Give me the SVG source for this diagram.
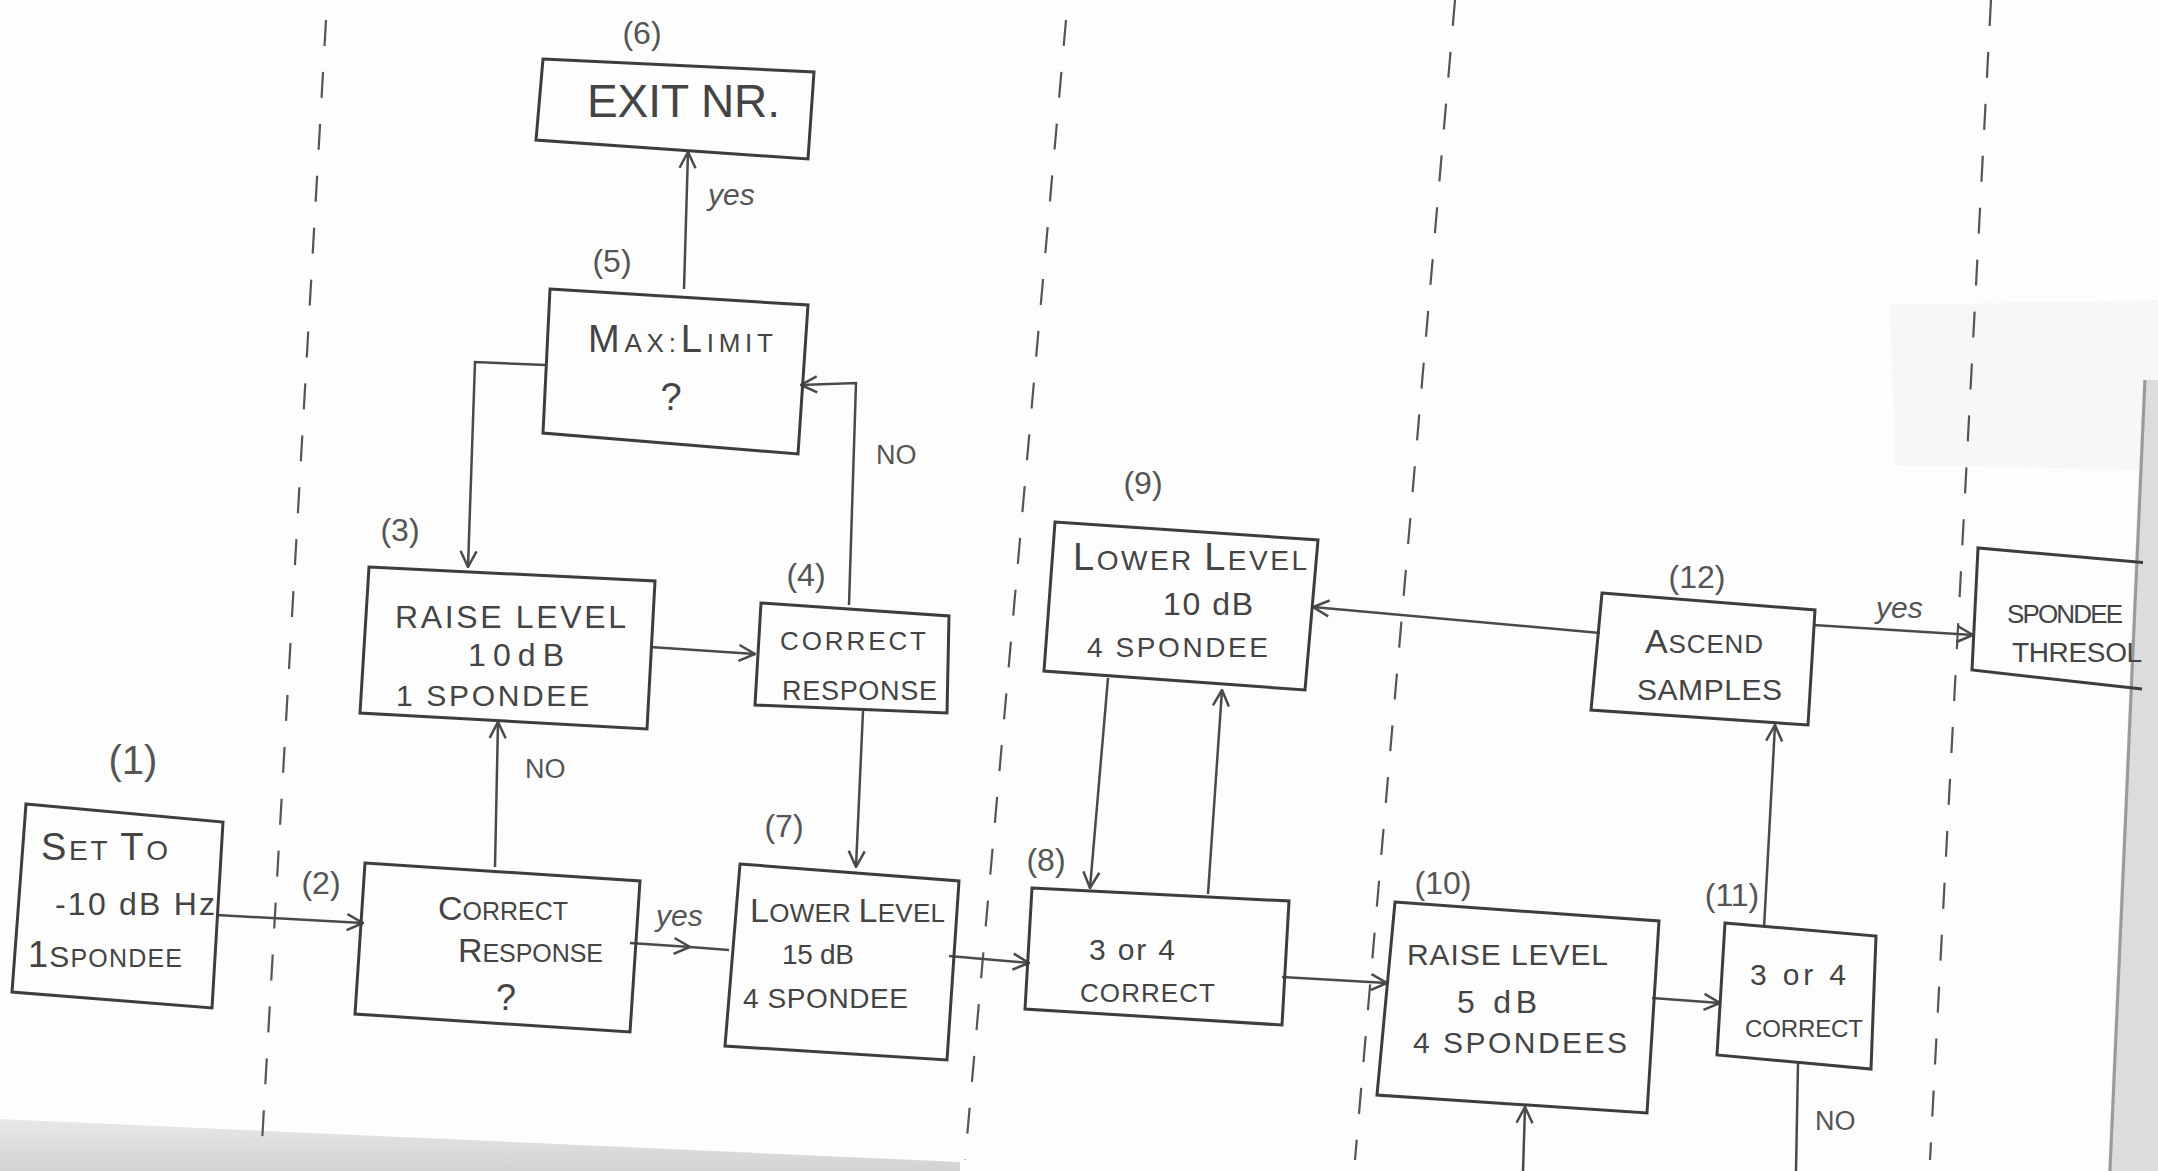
<svg xmlns="http://www.w3.org/2000/svg" width="2158" height="1171" viewBox="0 0 2158 1171">
<defs>
<style>
.box{fill:none;stroke:#3d3d3d;stroke-width:3;stroke-linejoin:miter}
.conn{fill:none;stroke:#4a4a4a;stroke-width:2.5}
.dash{fill:none;stroke:#555;stroke-width:2.2;stroke-dasharray:26 26}
.t{font-family:"Liberation Sans",Arial,sans-serif;fill:#444;font-size:30px}
.lbl{font-family:"Liberation Sans",Arial,sans-serif;fill:#555;font-size:32px;text-anchor:middle}
.yes{font-family:"Liberation Sans",Arial,sans-serif;fill:#555;font-size:30px;font-style:italic}
.no{font-family:"Liberation Sans",Arial,sans-serif;fill:#555;font-size:27px}
.b{font-size:40px}
</style>
<marker id="ah" viewBox="0 0 20 20" refX="19" refY="10" markerWidth="20" markerHeight="20" markerUnits="userSpaceOnUse" orient="auto">
<path d="M3,2 L19,10 L3,18" fill="none" stroke="#4a4a4a" stroke-width="2.5"/>
</marker>
<linearGradient id="shade" x1="0" y1="0" x2="0" y2="1">
<stop offset="0" stop-color="#e8e8e8"/>
<stop offset="1" stop-color="#d2d2d2"/>
</linearGradient>
<clipPath id="pageclip"><rect x="0" y="0" width="2143" height="1171"/></clipPath>
</defs>
<rect x="0" y="0" width="2158" height="1171" fill="#fdfdfd"/>
<polygon points="0,1119 960,1162 960,1171 0,1171" fill="url(#shade)"/>
<polygon points="1890,305 2158,300 2158,470 1895,465" fill="#f7f7f7"/>
<polygon points="2143,380 2158,380 2158,1171 2108,1171" fill="#dcdcdc"/>
<line x1="2145" y1="380" x2="2110" y2="1171" stroke="#9a9a9a" stroke-width="3"/>

<g id="separators">
<line class="dash" x1="326" y1="20" x2="261" y2="1160"/>
<line class="dash" x1="1066" y1="20" x2="965" y2="1160"/>
<line class="dash" x1="1455" y1="0" x2="1355" y2="1160"/>
<line class="dash" x1="1991" y1="0" x2="1930" y2="1160"/>
</g>

<g id="connectors">
<path class="conn" d="M217,915 L363,923" marker-end="url(#ah)"/>
<path class="conn" d="M495,867 L498,722" marker-end="url(#ah)"/>
<path class="conn" d="M650,647 L755,654" marker-end="url(#ah)"/>
<path class="conn" d="M849,605 L856,383 L801,385" marker-end="url(#ah)"/>
<path class="conn" d="M546,365 L475,362 L468,567" marker-end="url(#ah)"/>
<path class="conn" d="M684,289 L688,152" marker-end="url(#ah)"/>
<path class="conn" d="M863,711 L856,867" marker-end="url(#ah)"/>
<path class="conn" d="M630,943 L690,947" marker-end="url(#ah)"/>
<path class="conn" d="M690,947 L729,950"/>
<path class="conn" d="M949,956 L1029,963" marker-end="url(#ah)"/>
<path class="conn" d="M1108,678 L1090,888" marker-end="url(#ah)"/>
<path class="conn" d="M1208,894 L1222,690" marker-end="url(#ah)"/>
<path class="conn" d="M1282,977 L1387,983" marker-end="url(#ah)"/>
<path class="conn" d="M1652,998 L1720,1003" marker-end="url(#ah)"/>
<path class="conn" d="M1764,928 L1775,725" marker-end="url(#ah)"/>
<path class="conn" d="M1600,633 L1313,607" marker-end="url(#ah)"/>
<path class="conn" d="M1813,625 L1973,635" marker-end="url(#ah)"/>
<path class="conn" d="M1523,1171 L1525,1107" marker-end="url(#ah)"/>
<path class="conn" d="M1798,1063 L1796,1171"/>
<text class="no" x="525" y="778">NO</text>
<text class="no" x="876" y="464">NO</text>
<text class="yes" x="708" y="205">yes</text>
<text class="yes" x="656" y="926">yes</text>
<text class="yes" x="1876" y="618">yes</text>
<text class="no" x="1815" y="1130">NO</text>
</g>

<g id="n1">
<polygon class="box" points="26,804 223,822 212,1008 12,992"/>
<text class="lbl" x="133" y="774" style="font-size:40px">(1)</text>
<text class="t" x="41" y="860" textLength="127" style="font-size:28px"><tspan class="b" style="font-size:38px">S</tspan>ET <tspan class="b" style="font-size:38px">T</tspan>O</text>
<text class="t" x="55" y="915" textLength="160" style="font-size:32px">-10 dB Hz</text>
<text class="t" x="28" y="967" textLength="154" style="font-size:25px"><tspan class="b" style="font-size:36px">1</tspan><tspan style="font-size:30px">S</tspan>PONDEE</text>
</g>

<g id="n2">
<polygon class="box" points="365,863 640,881 630,1032 355,1014"/>
<text class="lbl" x="321" y="894">(2)</text>
<text class="t" x="438" y="920" textLength="130" style="font-size:25px"><tspan class="b" style="font-size:34px">C</tspan>ORRECT</text>
<text class="t" x="458" y="962" textLength="145" style="font-size:25px"><tspan class="b" style="font-size:34px">R</tspan>ESPONSE</text>
<text class="t" x="506" y="1010" text-anchor="middle" style="font-size:36px">?</text>
</g>

<g id="n3">
<polygon class="box" points="369,567 655,581 647,729 360,713"/>
<text class="lbl" x="400" y="541">(3)</text>
<text class="t" x="395" y="628" textLength="231" style="font-size:32px">RAISE LEVEL</text>
<text class="t" x="468" y="666" textLength="96" style="font-size:32px">10dB</text>
<text class="t" x="396" y="706" textLength="193" style="font-size:30px">1 SPONDEE</text>
</g>

<g id="n4">
<polygon class="box" points="761,603 949,616 947,713 755,705"/>
<text class="lbl" x="806" y="586">(4)</text>
<text class="t" x="780" y="650" textLength="146" style="font-size:26px">CORRECT</text>
<text class="t" x="782" y="700" textLength="155" style="font-size:27px">RESPONSE</text>
</g>

<g id="n5">
<polygon class="box" points="550,289 808,305 798,454 543,433"/>
<text class="lbl" x="612" y="272">(5)</text>
<text class="t" x="588" y="352" textLength="185" style="font-size:26px"><tspan class="b" style="font-size:38px">M</tspan>AX:<tspan class="b" style="font-size:38px">L</tspan>IMIT</text>
<text class="t" x="671" y="410" text-anchor="middle" style="font-size:38px">?</text>
</g>

<g id="n6">
<polygon class="box" points="543,59 814,72 808,159 536,140"/>
<text class="lbl" x="642" y="44">(6)</text>
<text class="t" x="587" y="117" textLength="193" style="font-size:46px">EXIT NR.</text>
</g>

<g id="n7">
<polygon class="box" points="740,864 959,881 947,1060 725,1046"/>
<text class="lbl" x="784" y="837">(7)</text>
<text class="t" x="750" y="922" textLength="195" style="font-size:26px"><tspan class="b" style="font-size:34px">L</tspan>OWER <tspan class="b" style="font-size:34px">L</tspan>EVEL</text>
<text class="t" x="782" y="964" textLength="72" style="font-size:28px">15 dB</text>
<text class="t" x="743" y="1008" textLength="165" style="font-size:28px">4 SPONDEE</text>
</g>

<g id="n8">
<polygon class="box" points="1032,888 1289,901 1282,1025 1025,1009"/>
<text class="lbl" x="1046" y="871">(8)</text>
<text class="t" x="1089" y="960" textLength="86" style="font-size:30px">3 or 4</text>
<text class="t" x="1080" y="1002" textLength="135" style="font-size:26px">CORRECT</text>
</g>

<g id="n9">
<polygon class="box" points="1055,522 1318,540 1305,690 1044,671"/>
<text class="lbl" x="1143" y="494">(9)</text>
<text class="t" x="1073" y="570" textLength="234" style="font-size:28px"><tspan class="b" style="font-size:38px">L</tspan>OWER <tspan class="b" style="font-size:38px">L</tspan>EVEL</text>
<text class="t" x="1163" y="615" textLength="90" style="font-size:32px">10 dB</text>
<text class="t" x="1087" y="657" textLength="181" style="font-size:28px">4 SPONDEE</text>
</g>

<g id="n10">
<polygon class="box" points="1395,902 1659,921 1647,1113 1377,1095"/>
<text class="lbl" x="1443" y="894">(10)</text>
<text class="t" x="1407" y="965" textLength="201" style="font-size:30px">RAISE LEVEL</text>
<text class="t" x="1457" y="1013" textLength="80" style="font-size:32px">5 dB</text>
<text class="t" x="1413" y="1053" textLength="214" style="font-size:30px">4 SPONDEES</text>
</g>

<g id="n11">
<polygon class="box" points="1725,923 1876,936 1871,1069 1717,1055"/>
<text class="lbl" x="1732" y="906">(11)</text>
<text class="t" x="1750" y="985" textLength="96" style="font-size:30px">3 or 4</text>
<text class="t" x="1745" y="1037" textLength="118" style="font-size:24px">CORRECT</text>
</g>

<g id="n12">
<polygon class="box" points="1602,593 1815,610 1808,725 1591,710"/>
<text class="lbl" x="1697" y="588">(12)</text>
<text class="t" x="1645" y="653" textLength="118" style="font-size:26px"><tspan class="b" style="font-size:34px">A</tspan>SCEND</text>
<text class="t" x="1637" y="700" textLength="145" style="font-size:30px">SAMPLES</text>
</g>

<g id="n13" clip-path="url(#pageclip)">
<polyline class="box" points="2150,563 1978,548 1972,670 2142,689"/>
<text class="t" x="2007" y="623" textLength="116" style="font-size:26px">SPONDEE</text>
<text class="t" x="2012" y="662" textLength="150" style="font-size:28px">THRESOLD</text>
</g>
</svg>
